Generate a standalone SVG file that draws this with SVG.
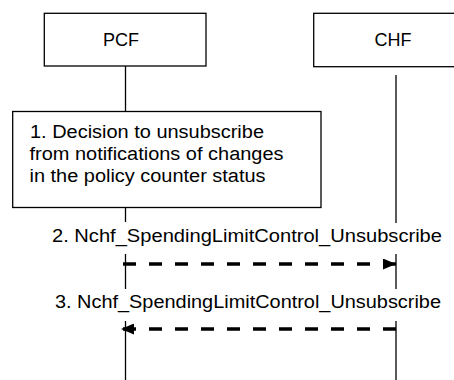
<svg xmlns="http://www.w3.org/2000/svg" width="454" height="380" viewBox="0 0 454 380">
  <style>
    .box { fill: #ffffff; stroke: #000000; stroke-width: 1.3; }
    .life { stroke: #000000; stroke-width: 1.3; fill: none; }
    .msg { stroke: #000000; stroke-width: 3.5; stroke-dasharray: 13 13; fill: none; }
    text { font-family: "Liberation Sans", Arial, sans-serif; font-size: 18px; fill: #000000; }
  </style>
  <defs>
    <marker id="arrow" viewBox="0 0 13 11" refX="13" refY="5.5" markerWidth="13" markerHeight="11" markerUnits="userSpaceOnUse" orient="auto">
      <path d="M0,0 L13,5.5 L0,11 Z" fill="#000000"/>
    </marker>
  </defs>
  <rect width="454" height="380" fill="#ffffff"/>
  <g id="connectors">
    <line class="life" x1="125.5" y1="66" x2="125.5" y2="111.5"/>
    <line class="life" x1="125.5" y1="207.5" x2="125.5" y2="222"/>
    <line class="life" x1="125.5" y1="254" x2="125.5" y2="289"/>
    <line class="life" x1="125.5" y1="321" x2="125.5" y2="380"/>
    <line class="life" x1="396" y1="75" x2="396" y2="223"/>
    <line class="life" x1="396" y1="254" x2="396" y2="289"/>
    <line class="life" x1="396" y1="321" x2="396" y2="380"/>
    <g id="msg2">
      <line class="msg" x1="123" y1="264" x2="396" y2="264" marker-end="url(#arrow)"/>
      <text x="52" y="241.7" textLength="390" lengthAdjust="spacingAndGlyphs">2. Nchf_SpendingLimitControl_Unsubscribe</text>
    </g>
    <g id="msg3">
      <line class="msg" x1="396" y1="329" x2="121" y2="329" marker-end="url(#arrow)"/>
      <text x="55" y="307.7" textLength="386" lengthAdjust="spacingAndGlyphs">3. Nchf_SpendingLimitControl_Unsubscribe</text>
    </g>
  </g>
  <g id="pcf">
    <rect class="box" x="44.3" y="13.3" width="161.7" height="52.7"/>
    <text x="121" y="46.3" text-anchor="middle">PCF</text>
  </g>
  <g id="chf">
    <rect class="box" x="313.7" y="13.3" width="162" height="53.4"/>
    <text x="393" y="46" text-anchor="middle">CHF</text>
  </g>
  <g id="decision">
    <rect class="box" x="12.7" y="111.5" width="308.3" height="96"/>
    <text x="30" y="138.3" textLength="234" lengthAdjust="spacingAndGlyphs">1. Decision to unsubscribe</text>
    <text x="29.5" y="160" textLength="254" lengthAdjust="spacingAndGlyphs">from notifications of changes</text>
    <text x="29.5" y="181.5" textLength="236" lengthAdjust="spacingAndGlyphs">in the policy counter status</text>
  </g>
</svg>
